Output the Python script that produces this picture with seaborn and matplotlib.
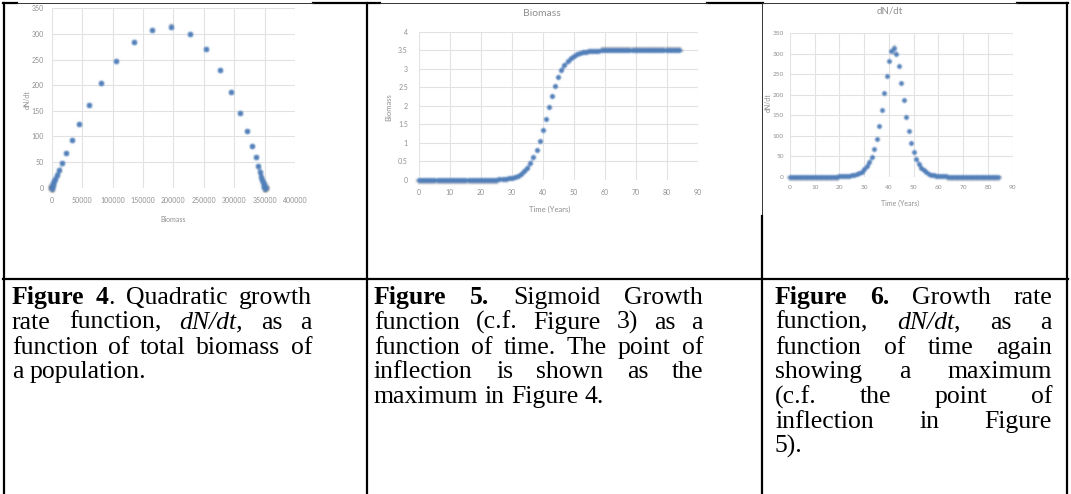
import matplotlib
matplotlib.use("Agg")
import numpy as np
import matplotlib.pyplot as plt
from matplotlib.lines import Line2D
import seaborn as sns

# ---------------------------------------------------------------- data
years = [0, 1, 2, 3, 4, 5, 6, 7, 8, 9,
         10, 11, 12, 13, 14, 15, 16, 17, 18, 19,
         20, 21, 22, 23, 24, 25, 26, 27, 28, 29,
         30, 31, 32, 33, 34, 35, 36, 37, 38, 39,
         40, 41, 42, 43, 44, 45, 46, 47, 48, 49,
         50, 51, 52, 53, 54, 55, 56, 57, 58, 59,
         60, 61, 62, 63, 64, 65, 66, 67, 68, 69,
         70, 71, 72, 73, 74, 75, 76, 77, 78, 79,
         80, 81, 82, 83, 84]

# biomass (Figure 5 units)
biomass = [0.0000, 0.0000, 0.0000, 0.0000, 0.0000, 0.0000, 0.0000, 0.0000, 0.0000, 0.0000,
           0.0000, 0.0001, 0.0001, 0.0001, 0.0002, 0.0003, 0.0004, 0.0006, 0.0008, 0.0011,
           0.0016, 0.0023, 0.0034, 0.0048, 0.0069, 0.0099, 0.0141, 0.0202, 0.0289, 0.0413,
           0.0589, 0.0838, 0.1189, 0.1679, 0.2358, 0.3283, 0.4522, 0.6138, 0.8177, 1.0642,
           1.3478, 1.6556, 1.9693, 2.2694, 2.5393, 2.7691, 2.9557, 3.1015, 3.2121, 3.2940,
           3.3537, 3.3966, 3.4272, 3.4489, 3.4642, 3.4749, 3.4825, 3.4878, 3.4915, 3.4940,
           3.4958, 3.4971, 3.4980, 3.4986, 3.4990, 3.4993, 3.4995, 3.4997, 3.4998, 3.4998,
           3.4999, 3.4999, 3.4999, 3.5000, 3.5000, 3.5000, 3.5000, 3.5000, 3.5000, 3.5000,
           3.5000, 3.5000, 3.5000, 3.5000, 3.5000]

# growth rate dN/dt per year
growth_rate = [0.0, 0.0, 0.0, 0.0, 0.0, 0.0, 0.0, 0.0, 0.0, 0.0,
               0.0, 0.0, 0.0, 0.0, 0.1, 0.1, 0.1, 0.2, 0.2, 0.3,
               0.5, 0.7, 1.0, 1.5, 2.1, 3.0, 4.3, 6.1, 8.7, 12.4,
               17.6, 24.9, 35.1, 49.0, 67.9, 92.6, 123.9, 161.6, 203.9, 246.5,
               283.6, 307.8, 313.7, 300.1, 269.9, 229.8, 186.6, 145.8, 110.6, 81.9,
               59.7, 42.9, 30.6, 21.7, 15.3, 10.7, 7.6, 5.3, 3.7, 2.5,
               1.8, 1.3, 0.9, 0.6, 0.4, 0.3, 0.2, 0.2, 0.1, 0.1,
               0.1, 0.0, 0.0, 0.0, 0.0, 0.0, 0.0, 0.0, 0.0, 0.0,
               0.0, 0.0, 0.0, 0.0, 0.0]

# Figure 4 plots biomass in absolute units
BIOMASS_UNIT = 100000
total_biomass = [b * BIOMASS_UNIT for b in biomass]

fig4_xticks = [0, 50000, 100000, 150000, 200000, 250000, 300000, 350000, 400000]
fig4_yticks = [0, 50, 100, 150, 200, 250, 300, 350]
fig5_xticks = [0, 10, 20, 30, 40, 50, 60, 70, 80, 90]
fig5_yticks = [0, 0.5, 1, 1.5, 2, 2.5, 3, 3.5, 4]
fig5_yticklabels = ["0", "0.5", "1", "1.5", "2", "2.5", "3", "3.5", "4"]
fig6_xticks = [0, 10, 20, 30, 40, 50, 60, 70, 80, 90]
fig6_yticks = [0, 50, 100, 150, 200, 250, 300, 350]

captions = [
    (12, 312, ["**Figure 4**. Quadratic growth",
               "rate function, *dN/dt,* as a",
               "function of total biomass of",
               "a population."]),
    (374, 703, ["**Figure 5.** Sigmoid Growth",
                "function (c.f. Figure 3) as a",
                "function of time. The point of",
                "inflection is shown as the",
                "maximum in Figure 4."]),
    (775, 1052, ["**Figure 6.** Growth rate",
                 "function, *dN/dt*, as a",
                 "function of time again",
                 "showing a maximum",
                 "(c.f. the point of",
                 "inflection in Figure",
                 "5)."]),
]

# ---------------------------------------------------------------- style
W, H = 1071, 494
sns.set_theme(style="white")
plt.rcParams["font.family"] = ["Lato", "DejaVu Sans"]

MARKER = "#4F7DB8"
GRID = "#e2e2e2"
CHART_TEXT = "#8f8f8f"
CAPTION_FONT = "Liberation Serif"
CAP_SIZE = 18.5

fig = plt.figure(figsize=(W / 100, H / 100), dpi=100)
fig.patch.set_facecolor("white")


def fx(px):
    return px / W


def fy(py):
    return 1 - py / H


class SoftFocus:
    """Agg filter giving the markers the soft edge of the scanned charts."""

    def __init__(self, sigma):
        self.sigma = sigma

    def __call__(self, im, dpi):
        r = int(np.ceil(3 * self.sigma))
        a = np.pad(im, [(r, r), (r, r), (0, 0)], "constant")
        k = np.exp(-0.5 * (np.arange(-r, r + 1) / self.sigma) ** 2)
        k /= k.sum()
        for axis in (0, 1):
            out = np.zeros_like(a)
            for i, w in enumerate(k):
                out += w * np.roll(a, i - r, axis=axis)
            a = out
        return a, -r, -r


def chart(box, xlim, ylim, xticks, yticks, tick_size, pad_x, pad_y):
    left, right, top, bottom = box
    ax = fig.add_axes([fx(left), fy(bottom), (right - left) / W, (bottom - top) / H])
    ax.set_xlim(*xlim)
    ax.set_ylim(*ylim)
    ax.set_xticks(xticks)
    ax.set_yticks(yticks)
    ax.grid(True, color=GRID, linewidth=0.8)
    ax.set_axisbelow(True)
    for s in ax.spines.values():
        s.set_visible(False)
    ax.tick_params(axis="both", length=0, labelsize=tick_size, labelcolor=CHART_TEXT)
    ax.tick_params(axis="x", pad=pad_x)
    ax.tick_params(axis="y", pad=pad_y)
    ax.set_facecolor("none")
    return ax


def place(box, px, py):
    left, right, top, bottom = box
    return (px - left) / (right - left), (bottom - py) / (bottom - top)


def label(ax, box, xlabel, xpos, ylabel, ypos, size):
    ax.set_xlabel(xlabel, fontsize=size, color=CHART_TEXT)
    ax.set_ylabel(ylabel, fontsize=size, color=CHART_TEXT)
    ax.xaxis.set_label_coords(*place(box, *xpos))
    ax.yaxis.set_label_coords(*place(box, *ypos))
    ax.xaxis.label.set_va("center")
    ax.yaxis.label.set_va("center")


def soften(ax):
    for coll in ax.collections:
        coll.set_agg_filter(SoftFocus(0.7))
        coll.set_rasterized(True)


# Figure 4: growth rate against total biomass
box4 = (51.7, 295, 8.3, 187.7)
ax4 = chart(box4, (0, 400000), (0, 350), fig4_xticks, fig4_yticks, 5.0, 6.5, 5.8)
sns.scatterplot(x=total_biomass, y=growth_rate, ax=ax4, color=MARKER, s=20,
                linewidth=0, clip_on=False, legend=False)
label(ax4, box4, "Biomass", (173, 219), "dN/dt", (27, 100), 5.0)
soften(ax4)

# Figure 5: sigmoid biomass over time
box5 = (419, 697.5, 31.7, 180)
ax5 = chart(box5, (0, 90), (0, 4), fig5_xticks, fig5_yticks, 5.0, 6.5, 8.0)
ax5.set_yticklabels(fig5_yticklabels)
sns.scatterplot(x=years, y=biomass, ax=ax5, color=MARKER, s=17,
                linewidth=0, clip_on=False, legend=False)
label(ax5, box5, "Time (Years)", (550, 209), "Biomass", (389, 107), 5.5)
tx, ty = place(box5, 541.7, 14)
ax5.set_title("Biomass", x=tx, y=ty, va="center", pad=0, fontsize=7.5, color=CHART_TEXT)
soften(ax5)

# Figure 6: growth rate over time
box6 = (790, 1012.7, 33.3, 176.7)
ax6 = chart(box6, (0, 90), (0, 350), fig6_xticks, fig6_yticks, 4.6, 6.0, 4.5)
sns.scatterplot(x=years, y=growth_rate, ax=ax6, color=MARKER, s=15,
                linewidth=0, clip_on=False, legend=False)
label(ax6, box6, "Time (Years)", (900, 203), "dN/dt", (768, 103), 5.0)
tx, ty = place(box6, 890, 11)
ax6.set_title("dN/dt", x=tx, y=ty, va="center", pad=0, fontsize=7, color=CHART_TEXT)
soften(ax6)

# ---------------------------------------------------------------- table rules
THICK = 1.6
THIN = 0.7


def rule(x0, y0, x1, y1, lw=THICK, color="black"):
    fig.add_artist(Line2D([fx(x0), fx(x1)], [fy(y0), fy(y1)], transform=fig.transFigure,
                          color=color, linewidth=lw, solid_capstyle="projecting"))


TOP = 2.7
# top edge: thinner where the chart images sit on it
for x0, x1 in [(2.5, 17), (313, 380), (707, 763), (1017, 1067.5)]:
    rule(x0, TOP, x1, TOP)
for x0, x1 in [(17, 313), (380, 707), (763, 1017)]:
    rule(x0, TOP, x1, TOP, lw=THIN, color="#333333")
rule(3.5, TOP, 3.5, 494)
rule(366.5, TOP, 366.5, 494)
rule(762, TOP, 762, 216, lw=THIN, color="#333333")
rule(762, 216, 762, 494)
rule(1066.7, TOP, 1066.7, 494)
rule(2.5, 279.3, 1067.5, 279.3)

# ---------------------------------------------------------------- captions
renderer = fig.canvas.get_renderer()


def parse_words(markup):
    words = []
    bold = italic = False
    for raw in markup.split(" "):
        segs, buf, i = [], "", 0
        while i < len(raw):
            if raw.startswith("**", i):
                if buf:
                    segs.append((buf, bold, italic))
                    buf = ""
                bold = not bold
                i += 2
            elif raw[i] == "*":
                if buf:
                    segs.append((buf, bold, italic))
                    buf = ""
                italic = not italic
                i += 1
            else:
                buf += raw[i]
                i += 1
        if buf:
            segs.append((buf, bold, italic))
        words.append(segs)
    return words


def text_kw(bold, italic):
    return dict(fontfamily=CAPTION_FONT, fontsize=CAP_SIZE, color="black",
                fontweight="bold" if bold else "normal",
                fontstyle="italic" if italic else "normal")


def seg_width(txt, bold, italic):
    t = fig.text(0, 0, txt, **text_kw(bold, italic))
    w = t.get_window_extent(renderer).width
    t.remove()
    return w


SPACE = 0.25 * CAP_SIZE * 100 / 72
BASE0 = 304
PITCH = 24.8

for left, right, lines in captions:
    for i, line in enumerate(lines):
        words = parse_words(line)
        widths = [[seg_width(*s) for s in w] for w in words]
        total = sum(sum(ws) for ws in widths)
        if i == len(lines) - 1 or len(words) < 2:
            gap = SPACE
        else:
            gap = (right - left - total) / (len(words) - 1)
        y = BASE0 + i * PITCH
        x = left
        for segs, ws in zip(words, widths):
            xx = x
            for (txt, b, it), w in zip(segs, ws):
                fig.text(fx(xx), fy(y), txt, ha="left", va="baseline", **text_kw(b, it))
                xx += w
            x += sum(ws) + gap

fig.savefig("out.png", dpi=100, facecolor="white")
